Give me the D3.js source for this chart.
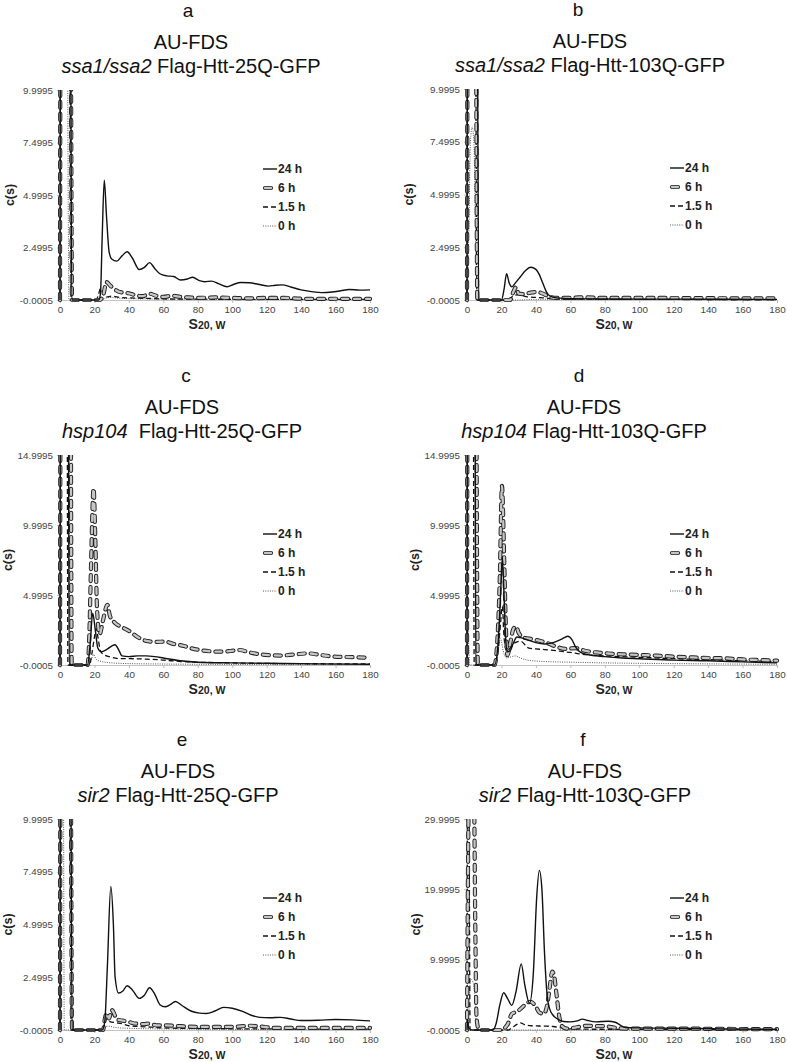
<!DOCTYPE html>
<html><head><meta charset="utf-8">
<script src="https://cdn.jsdelivr.net/npm/d3@7"></script>
<style>
body{margin:0;background:#fff}
text{font-family:"Liberation Sans",Arial,Helvetica,sans-serif}
</style></head>
<body><svg id="chart" width="787" height="1062"></svg>
<script>
// ---------- DATA (s20,w , c(s)) ----------
const xTicks = [0,20,40,60,80,100,120,140,160,180];
const yTicks10 = [-0.0005, 2.4995, 4.9995, 7.4995, 9.9995];
const yTicks15 = [-0.0005, 4.9995, 9.9995, 14.9995];
const yTicks30 = [-0.0005, 9.9995, 19.9995, 29.9995];
const seriesNames = ["24 h", "6 h", "1.5 h", "0 h"];

// panel a: ssa1/ssa2 25Q
const a24 = [[0,0],[0.3,20],[3,40],[6,20],[6.8,0],[8,0],[22.5,0],[23.5,0.3],[24.5,3],[25.7,5.7],[27,4],[28.5,2.3],[30,1.95],[33,1.85],[36,2.1],[39,2.3],[42,2],[46,1.45],[49,1.55],[52,1.78],[55,1.5],[58,1.25],[62,1.15],[66,1.12],[70,0.95],[74,1.0],[77,1.08],[81,0.92],[84,0.87],[88,0.9],[92,0.78],[97,0.63],[101,0.75],[105,0.83],[110,0.82],[115,0.75],[121,0.66],[125,0.7],[129,0.72],[134,0.62],[140,0.48],[146,0.4],[152,0.35],[158,0.38],[163,0.44],[168,0.5],[174,0.47],[180,0.48]];
const a6 = [[0,0],[0.4,20],[3,40],[6,20],[7,0],[8,0],[23,0],[25,0.2],[27,0.85],[29,0.7],[31,0.55],[34,0.4],[37,0.35],[40,0.32],[44,0.22],[48,0.18],[52,0.3],[56,0.2],[60,0.15],[65,0.2],[70,0.15],[75,0.12],[80,0.1],[90,0.12],[100,0.1],[110,0.08],[120,0.1],[130,0.1],[140,0.06],[150,0.05],[160,0.06],[170,0.05],[180,0.05]];
const a15 = [[0,0],[0.3,20],[3,40],[5.5,20],[6.5,0],[7,0],[21,0],[22.5,0.3],[23.5,0.55],[25,0.3],[27,0.15],[30,0.18],[35,0.12],[40,0.1],[50,0.08],[60,0.05],[80,0.04],[120,0.03],[180,0.03]];
const a0 = [[0,0],[0.3,20],[2.5,30],[4.2,15],[5.2,0],[6,0],[24,0],[26,0.08],[30,0.12],[35,0.08],[50,0.05],[100,0.03],[180,0.02]];

// panel b: ssa1/ssa2 103Q
const b24 = [[0,0],[0.3,20],[3,40],[5.8,20],[6.8,0],[8,0],[20,0],[21.5,0.5],[23,1.25],[24.5,0.8],[26,0.62],[28,0.8],[31,1.1],[34,1.4],[37,1.55],[40,1.45],[42,1.2],[44,0.8],[46,0.4],[48,0.2],[52,0.1],[60,0.06],[80,0.05],[120,0.04],[180,0.03]];
const b6 = [[0,0],[0.5,20],[3,40],[5,20],[6,0],[8,0],[25,0],[27,0.4],[28.5,0.6],[30,0.3],[33,0.28],[37,0.35],[41,0.38],[44,0.3],[48,0.15],[52,0.1],[58,0.1],[65,0.12],[70,0.12],[80,0.1],[100,0.1],[130,0.09],[160,0.08],[180,0.08]];
const b15 = [[0,0],[0.4,20],[2.5,40],[4.8,20],[5.8,0],[8,0],[24,0],[27,0.2],[30,0.25],[35,0.15],[40,0.12],[45,0.1],[50,0.05],[70,0.04],[180,0.02]];
const b0 = [[0,0],[1,3],[2,7.5],[3,8.2],[4,7.5],[5,3],[6,0],[30,0],[40,0.03],[180,0.01]];

// panel c: hsp104 25Q
const c24 = [[0,0],[0.3,30],[2.5,50],[4.7,30],[5.3,0],[7,0],[16,0],[17.5,1.5],[19,3.7],[20.5,2.5],[22,1.2],[24,0.95],[27,1.1],[30,1.35],[32,1.45],[34,1.1],[36,0.65],[40,0.6],[45,0.65],[50,0.65],[55,0.6],[60,0.5],[70,0.3],[80,0.2],[100,0.15],[120,0.12],[150,0.08],[180,0.05]];
const c6 = [[0,0],[0.5,30],[3,50],[6,30],[6.8,0],[8,0],[16,0],[17,2],[18,7],[19.5,12.6],[20.5,9],[21.5,4],[23,2.2],[25,3.2],[27.5,4.3],[29,3.5],[32,3.0],[36,2.7],[40.5,2.4],[45,2.0],[51,1.7],[56,1.65],[61,1.67],[66,1.5],[72,1.36],[76,1.2],[81,1.07],[87,0.98],[93,0.95],[99,1.0],[104,1.07],[110,0.9],[116,0.76],[122,0.7],[128,0.67],[136,0.75],[144,0.83],[151,0.72],[159,0.6],[170,0.56],[180,0.52]];
const c15 = [[0,0],[0.4,30],[2.5,50],[4,30],[4.6,0],[7,0],[17,0],[18.5,0.8],[20,2],[21,2.6],[22,2],[23.5,1],[26,0.7],[30,0.55],[35,0.45],[40,0.45],[50,0.42],[60,0.35],[70,0.25],[80,0.2],[100,0.15],[130,0.1],[180,0.08]];
const c0 = [[0,0],[0.5,20],[3,30],[5,20],[5.8,0],[8,0],[17,0],[18.5,0.5],[19.5,0.75],[21,0.4],[24,0.25],[30,0.15],[40,0.1],[60,0.07],[100,0.04],[180,0.02]];

// panel d: hsp104 103Q
const d24 = [[0,0],[0.3,30],[2.5,50],[4.5,30],[5.1,0],[7,0],[16,0],[18,1.5],[19.5,5],[20.5,7.7],[21.5,5],[22.5,1.8],[23.5,0.95],[25,1.0],[27,1.6],[29,2.0],[31,1.95],[35,1.8],[40,1.6],[45,1.5],[50,1.6],[55,1.85],[58.5,2.05],[61,1.8],[63,1.3],[66,0.9],[70,0.75],[80,0.6],[90,0.5],[100,0.45],[120,0.35],[140,0.3],[160,0.22],[180,0.15]];
const d6 = [[0,0],[0.4,30],[2.5,50],[5,30],[6.3,0],[8,0],[16,0],[17.5,1.5],[19,6],[20.3,12.8],[21.5,8],[22.5,3],[23.5,0.7],[25,1.5],[27,2.6],[28.5,2.75],[30,2.3],[33,1.95],[38,1.85],[43,1.7],[47,1.55],[52,1.3],[57,1.15],[63,1.2],[69,1.0],[75,0.9],[82,0.82],[90,0.76],[100,0.72],[110,0.67],[120,0.6],[129,0.55],[140,0.5],[149,0.48],[160,0.4],[168,0.36],[180,0.31]];
const d15 = [[0,0],[0.3,30],[2,50],[3.5,30],[4.2,0],[7,0],[16,0],[18,1],[19.5,3],[20.5,4.2],[21.5,2],[23,1.0],[25,1.2],[28,1.6],[31,1.7],[36,1.2],[40,1.15],[45,1.1],[52,1.02],[56,0.95],[60,0.9],[65,0.8],[70,0.72],[80,0.65],[100,0.55],[120,0.45],[140,0.38],[160,0.3],[180,0.25]];
const d0 = [[0,0],[0.5,3],[1.5,0],[16,0],[18,1],[19.5,1.9],[21,1],[23,0.5],[26,0.6],[28,0.65],[31,0.5],[35,0.35],[45,0.25],[60,0.2],[80,0.15],[100,0.12],[140,0.08],[180,0.05]];

// panel e: sir2 25Q
const e24 = [[0,0],[0.3,20],[3,40],[6,20],[7,0],[8,0],[24.5,0],[26,0.4],[27.5,3],[29.5,6.8],[31,5],[32,2.5],[34,1.75],[36.5,1.85],[39,2.1],[42,1.9],[46,1.5],[49,1.65],[52,2.0],[55,1.7],[58,1.2],[61,1.1],[64,1.2],[67,1.35],[71,1.15],[76,0.9],[81,0.8],[85,0.78],[90,0.9],[95,1.07],[100,1.03],[106,0.88],[111,0.7],[116,0.6],[122,0.58],[128,0.6],[134,0.52],[140,0.45],[150,0.46],[160,0.5],[170,0.48],[180,0.43]];
const e6 = [[0,0],[0.4,20],[3,40],[6,20],[7,0],[8,0],[25,0],[26,0.5],[27,0.8],[28.5,0.55],[30,0.95],[31,0.85],[33,0.5],[36,0.45],[40,0.38],[44,0.3],[48,0.28],[52,0.3],[56,0.22],[60,0.22],[70,0.18],[80,0.15],[90,0.15],[100,0.15],[110,0.2],[115,0.18],[125,0.1],[140,0.1],[160,0.1],[180,0.1]];
const e15 = [[0,0],[0.3,20],[3,40],[5.5,20],[6.5,0],[8,0],[25,0],[26,0.3],[27,0.55],[29,0.4],[32,0.35],[36,0.3],[40,0.2],[50,0.15],[60,0.1],[80,0.07],[120,0.05],[180,0.04]];
const e0 = [[0,0],[0.2,20],[1,30],[1.8,20],[2.5,0],[20,0],[24,0.08],[28,0.18],[32,0.12],[40,0.08],[60,0.05],[100,0.03],[180,0.02]];

// panel f: sir2 103Q
const f24 = [[0,0],[0.3,1.5],[1,0.3],[3,0],[15,0],[17,1],[19,3.5],[21.3,5.3],[23.5,4.5],[26,3.5],[28.5,5.5],[31.5,9.4],[33.5,6.5],[36.3,3.8],[38.5,8],[40.5,19],[42,22.7],[43.5,20],[45,11],[46.5,5],[48,3],[50,2.1],[53,1.5],[56,1.2],[60,1.15],[64,1.3],[67,1.55],[70,1.35],[75,1.15],[82,1.25],[86,1.1],[89,0.7],[92,0.35],[100,0.3],[120,0.25],[150,0.15],[180,0.1]];
const f6 = [[0,0],[0.5,20],[2,45],[3.8,40],[4.8,15],[5.5,2],[6.5,0.3],[8,0],[20,0],[22,0.3],[24,1],[26,2.3],[29,2.6],[32,3.2],[35,3.9],[37,4.0],[40,3.3],[42,2.5],[44.5,2.3],[46.5,3.5],[48,6],[49.5,8.3],[50.5,7.8],[52,5],[53.5,2],[55,0.6],[58,0.2],[62,0.3],[66,0.5],[70,0.6],[75,0.55],[80,0.55],[84,0.4],[88,0.25],[95,0.2],[120,0.2],[150,0.15],[180,0.12]];
const f15 = [[0,0],[0.3,40],[1,40],[1.8,0],[8,0],[24,0],[26,0.3],[29,0.8],[31,1.0],[34,0.7],[38,0.6],[45,0.55],[50,0.5],[55,0.3],[60,0.15],[80,0.1],[180,0.05]];
const f0 = [[0,0],[1,2],[2,7.3],[3.5,6.8],[4.5,5],[5.5,0.5],[6.5,0],[180,0.02]];

// ---------- PANELS (layout) ----------
const panels = [
  {letter:"a", gene:"ssa1/ssa2", construct:" Flag-Htt-25Q-GFP", ymax:9.9995, ticks:yTicks10, data:[a24,a6,a15,a0],
   left:60, right:370, top:90, bottom:300, lx:188, tx:191, ylab:50},
  {letter:"b", gene:"ssa1/ssa2", construct:" Flag-Htt-103Q-GFP", ymax:9.9995, ticks:yTicks10, data:[b24,b6,b15,b0],
   left:467, right:777, top:89, bottom:300, lx:578, tx:590, ylab:58},
  {letter:"c", gene:"hsp104", construct:"\u00a0 Flag-Htt-25Q-GFP", ymax:14.9995, ticks:yTicks15, data:[c24,c6,c15,c0],
   left:60, right:370, top:455, bottom:665, lx:186, tx:182, ylab:52},
  {letter:"d", gene:"hsp104", construct:" Flag-Htt-103Q-GFP", ymax:14.9995, ticks:yTicks15, data:[d24,d6,d15,d0],
   left:467, right:777, top:455, bottom:665, lx:579, tx:584, ylab:52},
  {letter:"e", gene:"sir2", construct:" Flag-Htt-25Q-GFP", ymax:9.9995, ticks:yTicks10, data:[e24,e6,e15,e0],
   left:60, right:370, top:819, bottom:1030, lx:182, tx:178, ylab:52},
  {letter:"f", gene:"sir2", construct:" Flag-Htt-103Q-GFP", ymax:29.9995, ticks:yTicks30, data:[f24,f6,f15,f0],
   left:467, right:777, top:819, bottom:1030, lx:583, tx:585, ylab:51}
];

const svg = d3.select("#chart");
const fmt = d => d.toFixed(4);

function capsule(g, pathD) {
  g.append("path").attr("d", pathD).attr("fill","none").attr("stroke","#222").attr("stroke-width",4.2)
    .attr("stroke-dasharray","6,6").attr("stroke-linecap","round");
  g.append("path").attr("d", pathD).attr("fill","none").attr("stroke","#c6c6c6").attr("stroke-width",2.3)
    .attr("stroke-dasharray","6,6").attr("stroke-linecap","round");
}
function drawSeries(g, pathD, idx) {
  if (idx === 0) {
    g.append("path").attr("d", pathD).attr("fill","none").attr("stroke","#111").attr("stroke-width",1.4);
  } else if (idx === 1) {
    capsule(g, pathD);
  } else if (idx === 2) {
    g.append("path").attr("d", pathD).attr("fill","none").attr("stroke","#111").attr("stroke-width",1.3)
      .attr("stroke-dasharray","5,3");
  } else {
    g.append("path").attr("d", pathD).attr("fill","none").attr("stroke","#555").attr("stroke-width",1)
      .attr("stroke-dasharray","1,1.3");
  }
}

panels.forEach((p, pi) => {
  const x = d3.scaleLinear().domain([0,180]).range([p.left, p.right]);
  const y = d3.scaleLinear().domain([-0.0005, p.ymax]).range([p.bottom, p.top]);
  const cx = (p.left + p.right) / 2;

  // letter & titles
  svg.append("text").attr("x", p.lx).attr("y", p.top - 73).attr("text-anchor","middle")
    .attr("font-size", 19).attr("fill","#111").text(p.letter);
  svg.append("text").attr("x", p.tx).attr("y", p.top - 41).attr("text-anchor","middle")
    .attr("font-size", 20).attr("fill","#111").text("AU-FDS");
  const t2 = svg.append("text").attr("x", p.tx).attr("y", p.top - 17.5).attr("text-anchor","middle")
    .attr("font-size", 20).attr("fill","#111");
  t2.append("tspan").attr("font-style","italic").text(p.gene);
  t2.append("tspan").text(p.construct);

  // axes
  const gy = svg.append("g").attr("transform", `translate(${p.left},0)`)
    .call(d3.axisLeft(y).tickValues(p.ticks).tickFormat(fmt).tickSize(3).tickPadding(4));
  const gx = svg.append("g").attr("transform", `translate(0,${p.bottom})`)
    .call(d3.axisBottom(x).tickValues(xTicks).tickFormat(d3.format("d")).tickSize(3).tickPadding(3));
  [gx, gy].forEach(g => {
    g.select(".domain").attr("stroke","#c4c4c4").attr("stroke-width",1.2);
    g.selectAll(".tick line").attr("stroke","#bbb");
    g.selectAll(".tick text").attr("fill","#444").attr("font-size", 9.8)
      .attr("font-family","'Liberation Sans',Arial,sans-serif");
  });

  // axis labels
  const xl = svg.append("text").attr("x", cx - 8).attr("y", p.bottom + 29).attr("text-anchor","middle")
    .attr("font-weight","bold").attr("fill","#222");
  xl.append("tspan").attr("font-size", 14).text("S");
  xl.append("tspan").attr("font-size", 10.5).text("20, W");
  svg.append("text").attr("transform", `translate(${p.left - p.ylab},${(p.top + p.bottom)/2}) rotate(-90)`)
    .attr("text-anchor","middle").attr("dy","0.35em").attr("font-size", 12.5).attr("font-weight","bold")
    .attr("fill","#222").text("c(s)");

  // clip
  const clipId = "clip" + pi;
  svg.append("clipPath").attr("id", clipId).append("rect")
    .attr("x", p.left - 3).attr("y", p.top).attr("width", p.right - p.left + 6).attr("height", p.bottom - p.top + 3);
  const gl = svg.append("g").attr("clip-path", `url(#${clipId})`);
  const line = d3.line().x(d => x(d[0])).y(d => y(d[1])).curve(d3.curveMonotoneX);
  [3,2,1,0].forEach(i => drawSeries(gl, line(p.data[i]), i));

  // legend
  const lg = svg.append("g").attr("transform", `translate(${p.left + 203},${p.top + 79})`);
  seriesNames.forEach((name, i) => {
    const row = lg.append("g").attr("transform", `translate(0,${i * 19})`);
    if (i === 1) {
      capsule(row, "M2,0L14,0");
    } else {
      drawSeries(row, "M0,0L14,0", i);
    }
    row.append("text").attr("x", 15).attr("y", 0).attr("dy","0.36em")
      .attr("font-size", 12).attr("font-weight","bold").attr("fill","#222").text(name);
  });
});
</script></body></html>
